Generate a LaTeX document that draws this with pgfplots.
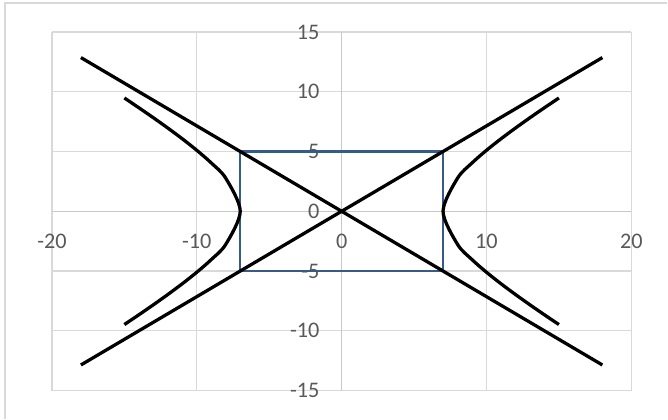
\documentclass[border=0pt]{standalone}
\usepackage{fontspec}
\setmainfont{Carlito}
\usepackage{pgfplots}
\pgfplotsset{compat=1.18}
\usetikzlibrary{calc}
\definecolor{gridgray}{HTML}{D9D9D9}
\definecolor{axisgray}{HTML}{C8C8C8}
\definecolor{labelgray}{HTML}{595959}
\definecolor{boxblue}{HTML}{365B86}
\definecolor{framegray}{HTML}{D9D9D9}

\begin{document}
\begin{tikzpicture}
  \begin{axis}[
    scale only axis,
    width=17.4cm, height=10.77cm,
    xmin=-20, xmax=20, ymin=-15, ymax=15,
    axis lines=middle,
    axis line style={draw=axisgray, line width=1pt, -},
    xtick={-20,-10,0,10,20},
    ytick={-15,-10,-5,0,5,10,15},
    hide obscured x ticks=false,
    hide obscured y ticks=false,
    major tick length=0pt,
    grid=major,
    major grid style={draw=gridgray, line width=1pt},
    tick label style={font=\fontsize{19}{22}\selectfont, text=labelgray, inner sep=0pt},
    xticklabel style={anchor=north, yshift=-0.68cm},
    yticklabel style={anchor=east, xshift=-0.66cm},
    /pgf/number format/assume math mode=true,
    clip=false,
  ]
    % box
    \addplot[boxblue, line width=1.8pt] coordinates {
      (-7,-5) (7,-5) (7,5) (-7,5) (-7,-5)
    };
    % asymptotes
    \addplot[black, line width=2.8pt] coordinates {(-18,12.857) (18,-12.857)};
    \addplot[black, line width=2.8pt] coordinates {(-18,-12.857) (18,12.857)};
    % right branch
    \addplot[black, line width=2.8pt, smooth] coordinates {
      (15,9.476) (14,8.660) (13,7.825) (12,6.962) (11,6.061) (10,5.101)
      (9,4.041) (8,2.766) (7,0) (8,-2.766) (9,-4.041) (10,-5.101)
      (11,-6.061) (12,-6.962) (13,-7.825) (14,-8.660) (15,-9.476)
    };
    % left branch
    \addplot[black, line width=2.8pt, smooth] coordinates {
      (-15,9.476) (-14,8.660) (-13,7.825) (-12,6.962) (-11,6.061) (-10,5.101)
      (-9,4.041) (-8,2.766) (-7,0) (-8,-2.766) (-9,-4.041) (-10,-5.101)
      (-11,-6.061) (-12,-6.962) (-13,-7.825) (-14,-8.660) (-15,-9.476)
    };
  \end{axis}
  % chart frame (right and bottom edges lie outside the picture)
  \draw[framegray, line width=1.2pt]
    ($(current axis.south west)+(-1.41cm,-0.84cm)$) --
    ($(current axis.south west)+(-1.41cm,11.64cm)$) --
    ($(current axis.south west)+(18.48cm,11.64cm)$);
  \path[use as bounding box]
    ($(current axis.south west)+(-1.56cm,-0.84cm)$) rectangle
    ($(current axis.south west)+(18.48cm,11.73cm)$);
\end{tikzpicture}
\end{document}
